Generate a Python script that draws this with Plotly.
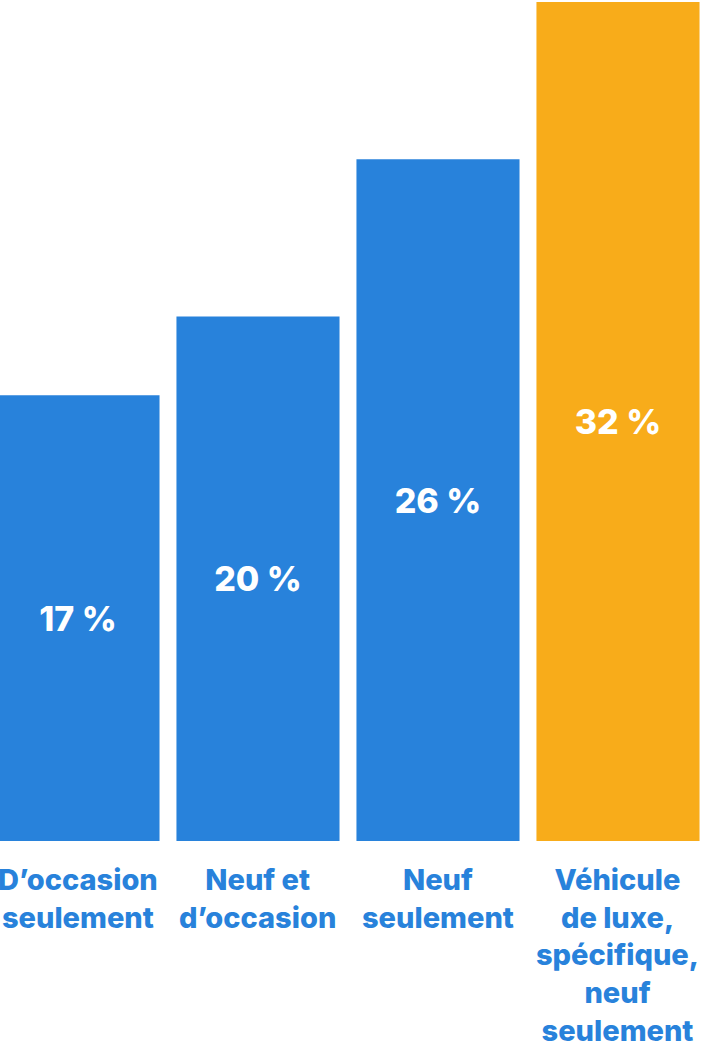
import plotly.graph_objects as go

# Data
categories = [
    "D\u2019occasion<br>seulement",
    "Neuf et<br>d\u2019occasion",
    "Neuf<br>seulement",
    "V\u00e9hicule<br>de luxe,<br>sp\u00e9cifique,<br>neuf<br>seulement",
]
values = [17, 20, 26, 32]
colors = ["#2882DB", "#2882DB", "#2882DB", "#F8AC1A"]
label_color = "#2882DB"

positions = list(range(len(values)))
labels = [f"{v}\u00a0%" for v in values]

FONT = "Inter"

fig = go.Figure(
    go.Bar(
        x=positions,
        y=values,
        width=0.906,
        marker=dict(color=colors, line=dict(width=0)),
        text=labels,
        textposition="inside",
        insidetextanchor="middle",
        textangle=0,
        constraintext="none",
        textfont=dict(family=FONT, size=34, color="white", weight=800),
        hoverinfo="skip",
    )
)

for pos, cat in zip(positions, categories):
    fig.add_annotation(
        x=pos,
        y=-0.022,
        xref="x",
        yref="paper",
        text=cat,
        showarrow=False,
        xanchor="center",
        yanchor="top",
        align="center",
        font=dict(family=FONT, size=29, color=label_color, weight=800),
    )

fig.update_layout(
    width=718,
    height=1047,
    margin=dict(l=0, r=0, t=0, b=206),
    paper_bgcolor="white",
    plot_bgcolor="white",
    showlegend=False,
    xaxis=dict(
        range=[-0.4333, 3.5556],
        visible=False,
        fixedrange=True,
    ),
    yaxis=dict(
        range=[0, 32.076],
        visible=False,
        fixedrange=True,
    ),
)

fig.write_html("out.html", config={"displayModeBar": False})
